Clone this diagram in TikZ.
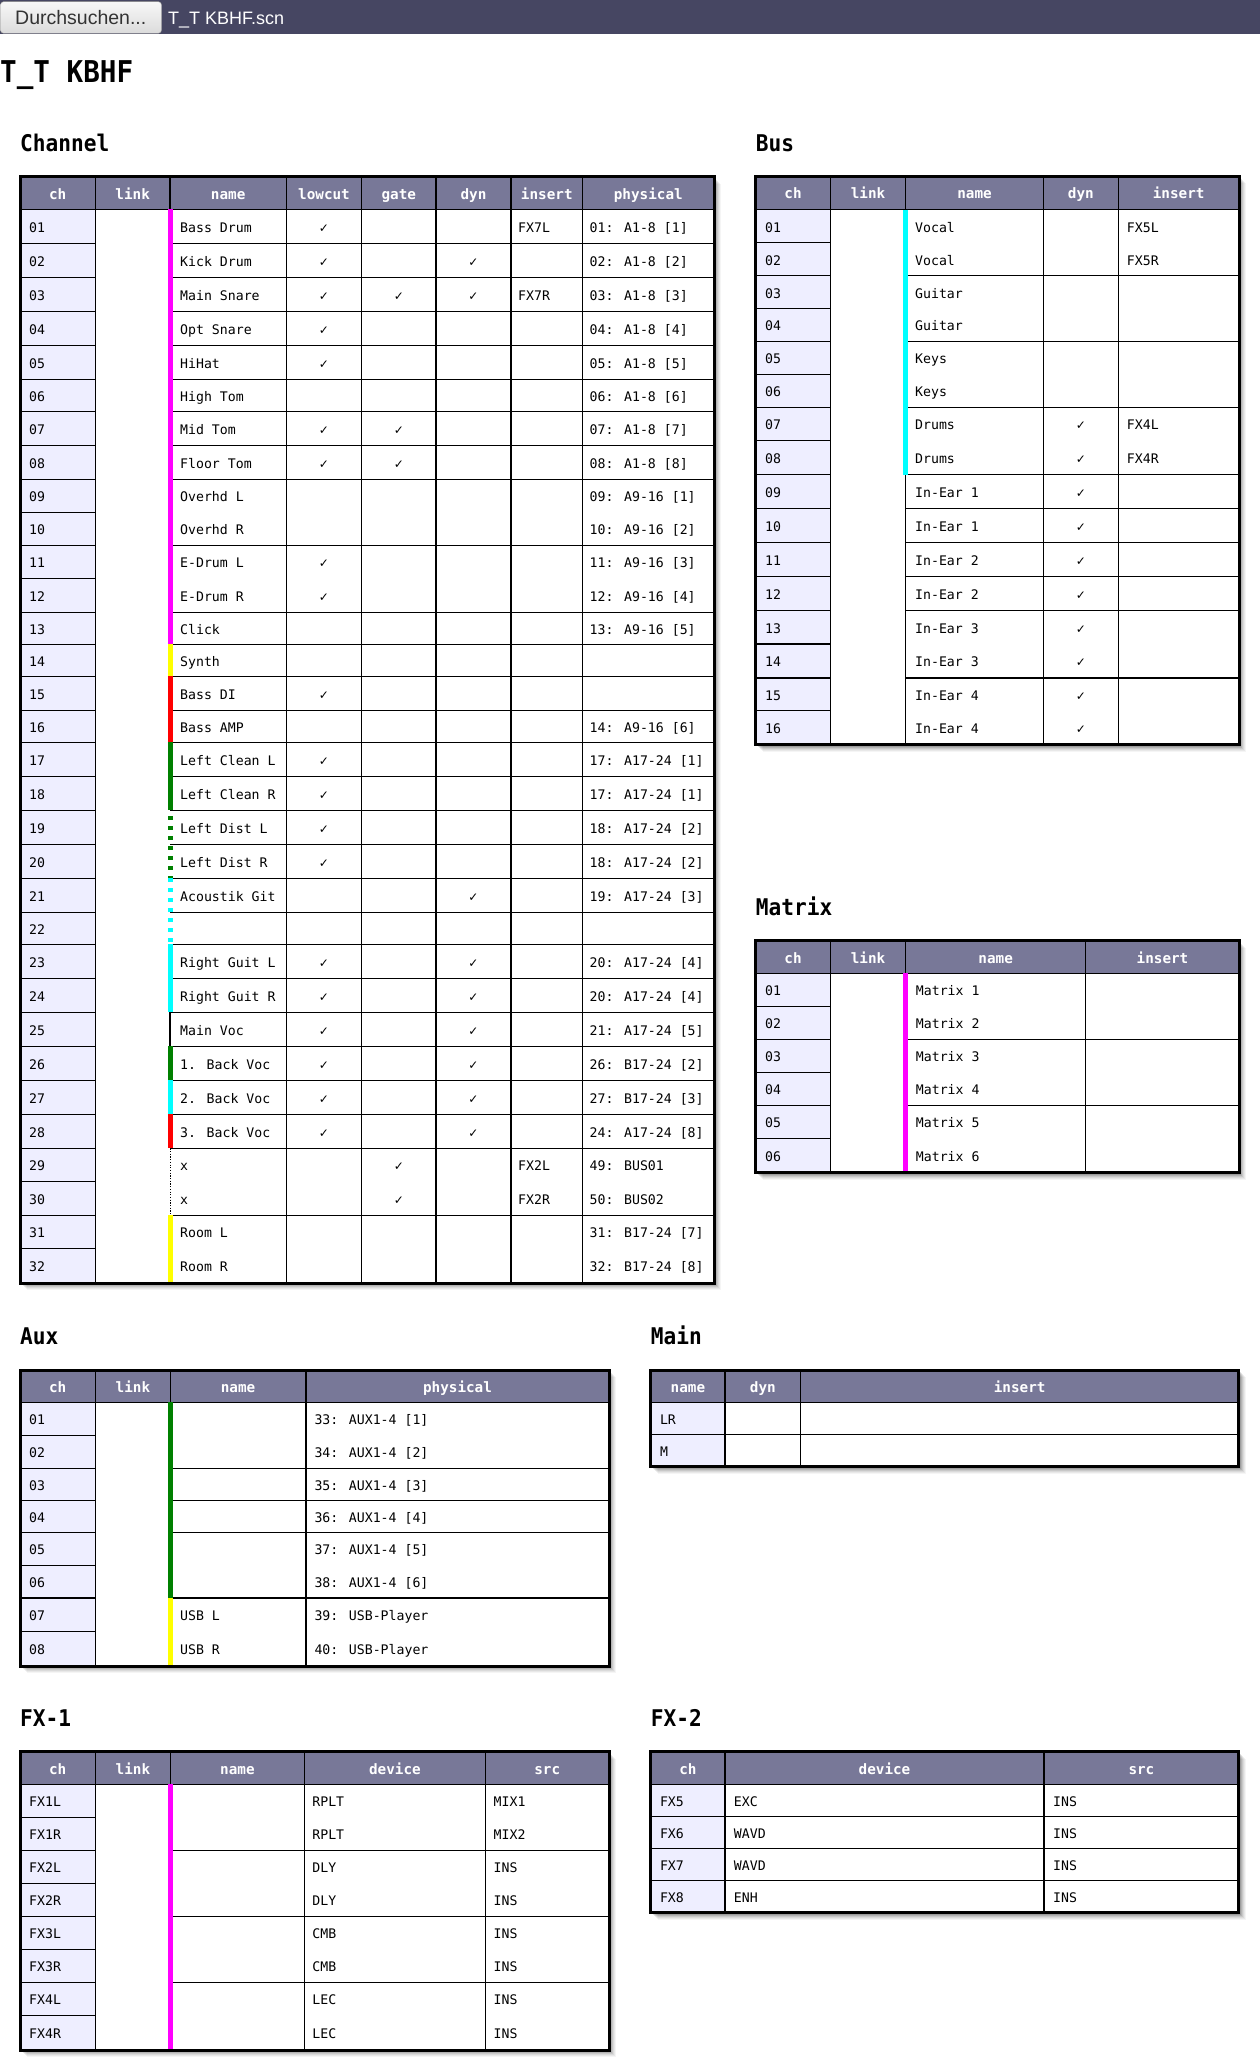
\documentclass[tikz,border=0pt]{standalone}
\usepackage{fontspec}
\newfontfamily\bodyf{DejaVu Sans Mono}
\newfontfamily\hfont[FakeStretch=0.92]{DejaVu Sans Mono}
\newfontfamily\symf{DejaVu Sans}
\newfontfamily\uif{Liberation Sans}
\definecolor{hdrbg}{RGB}{120,120,152}
\definecolor{chbg}{RGB}{238,238,255}
\definecolor{topbg}{RGB}{70,70,98}
\definecolor{lgreen}{RGB}{0,128,0}
\definecolor{lmag}{RGB}{255,0,255}
\definecolor{lcyan}{RGB}{0,255,255}
\definecolor{lyel}{RGB}{255,255,0}
\definecolor{lred}{RGB}{255,0,0}
\tikzset{
  txt/.style={inner sep=0pt,text=black,font=\bodyf\fontsize{13.2}{15}\selectfont},
  hdr/.style={inner sep=0pt,text=white,font=\bodyf\bfseries\fontsize{14.3}{16}\selectfont},
  heading/.style={inner sep=0pt,anchor=base west,font=\hfont\bfseries\fontsize{23}{26}\selectfont},
  grid/.style={line width=1.2pt,black},
  frame/.style={line width=3pt,black},
  bar/.style={line width=4.5pt},
}
\newcommand\ck{{\symf\fontsize{12}{13}\selectfont ✓}}
\newcommand\celll[5]{\if\relax\detokenize{#5}\relax\else\pgfmathsetmacro\tyc{(#3+#4)/2+5.8}\node[txt,anchor=base west] (#1) at (#2,\tyc) {#5};\fi}
\newcommand\cellc[5]{\if\relax\detokenize{#5}\relax\else\pgfmathsetmacro\tyc{(#3+#4)/2+5.8}\node[txt,anchor=base] (#1) at (#2,\tyc) {#5};\fi}
\newcommand\hcell[4]{\node[hdr,anchor=base] (#1) at (#2,#3) {#4};}
\newcommand\tshadow[4]{\foreach \o/\op in {7/0.04,6/0.05,5/0.06,4/0.08,3/0.1,2/0.12}{\fill[black,opacity=\op] (#1+\o,#2+\o) rectangle (#3+\o,#4+\o);}}
\newcommand\tbase[6]{\tshadow{#1}{#2}{#3}{#4}%
  \fill[white] (#1,#2) rectangle (#3,#4);
  \fill[hdrbg] (#1,#2) rectangle (#3,#5);
  \fill[chbg] (#1,#5) rectangle (#6,#4);
  \draw[grid] (#1,#5) -- (#3,#5);}
\newcommand\chrow[9]{%
  \celll{cc#3}{29}{#1}{#2}{#3}%
  \celll{cn#3}{180}{#1}{#2}{#4}%
  \cellc{cl#3}{324}{#1}{#2}{#5}%
  \cellc{cg#3}{399}{#1}{#2}{#6}%
  \cellc{cd#3}{473.5}{#1}{#2}{#7}%
  \celll{ci#3}{518}{#1}{#2}{#8}%
  \celll{cp#3}{589.5}{#1}{#2}{#9}}
\newcommand\busrow[6]{%
  \celll{bc#3}{765}{#1}{#2}{#3}%
  \celll{bn#3}{915}{#1}{#2}{#4}%
  \cellc{bd#3}{1080.8}{#1}{#2}{#5}%
  \celll{bi#3}{1126.7}{#1}{#2}{#6}}
\newcommand\mxrow[4]{%
  \celll{mc#3}{765}{#1}{#2}{#3}%
  \celll{mn#3}{915.7}{#1}{#2}{#4}}
\newcommand\auxrow[5]{%
  \celll{ac#3}{29}{#1}{#2}{#3}%
  \celll{an#3}{180}{#1}{#2}{#4}%
  \celll{ap#3}{314.3}{#1}{#2}{#5}}
\newcommand\fxarow[5]{%
  \celll{fac#3}{29}{#1}{#2}{#3}%
  \celll{fad#3}{312.2}{#1}{#2}{#4}%
  \celll{fas#3}{493.5}{#1}{#2}{#5}}
\newcommand\fxbrow[5]{%
  \celll{fbc#3}{659.8}{#1}{#2}{#3}%
  \celll{fbd#3}{733.7}{#1}{#2}{#4}%
  \celll{fbs#3}{1053}{#1}{#2}{#5}}
\begin{document}
\begin{tikzpicture}[x=1pt,y=-1pt]
\useasboundingbox (0,0) rectangle (1260,2071);
\fill[white] (0,0) rectangle (1260,2071);
% top bar
\fill[topbg] (0,0) rectangle (1260,34);
\shade[top color=black!3,bottom color=black!14,rounded corners=3pt] (0.5,1.7) rectangle (161.5,33.3);
\draw[black!45,rounded corners=3pt] (0.5,1.7) rectangle (161.5,33.3);
\node[inner sep=0pt,anchor=base west,font=\uif\fontsize{19.5}{21}\selectfont,text=black!80] (btn) at (15,25) {Durchsuchen...};
\node[inner sep=0pt,anchor=base west,font=\uif\fontsize{18}{20}\selectfont,text=white] (fname) at (168,25) {T\_T KBHF.scn};
% title and headings
\node[inner sep=0pt,anchor=base west,font=\hfont\bfseries\fontsize{30}{34}\selectfont] (title) at (0,83) {T\_T KBHF};
\node[heading] (hchan) at (20,152) {Channel};
\node[heading] (hbus) at (755.7,151.5) {Bus};
\node[heading] (hmat) at (755.7,915) {Matrix};
\node[heading] (haux) at (20,1344) {Aux};
\node[heading] (hmain) at (650.7,1344) {Main};
\node[heading] (hfxa) at (20,1726) {FX-1};
\node[heading] (hfxb) at (650.7,1726) {FX-2};

% ================= Channel
\tbase{20}{177}{714}{1283}{209.3}{95.4}
\foreach \y in {243.3,277.3,311.7,345.3,379.3,411.7,445.7,479.3,512.3,545.3,578.3,612.3,644.3,676.3,710.3,742.3,776.3,810.3,844.3,878.3,912.3,944.3,978.3,1012.3,1046.3,1080.3,1114.3,1148.3,1181.3,1215.3,1248.3}
  \draw[grid] (20,\y) -- (95.4,\y);
\foreach \y in {243.3,277.3,311.7,345.3,379.3,411.7,445.7,479.3,545.3,612.3,644.3,676.3,710.3,742.3,776.3,810.3,844.3,878.3,912.3,944.3,978.3,1012.3,1046.3,1080.3,1114.3,1148.3,1215.3}
  \draw[grid] (170,\y) -- (714,\y);
\foreach \x in {95.4,286.5,361.5,436,511,582.5}
  \draw[grid] (\x,177) -- (\x,1283);
\draw[grid] (170,177) -- (170,209.3);
\draw[bar,lmag] (170.4,209.3) -- (170.4,644.3);
\draw[bar,lyel] (170.4,644.3) -- (170.4,676.3);
\draw[bar,lred] (170.4,676.3) -- (170.4,742.3);
\draw[bar,lgreen] (170.4,742.3) -- (170.4,810.3);
\draw[bar,lgreen,dash pattern=on 4pt off 6pt,dash phase=-6pt] (170.4,810.3) -- (170.4,878.3);
\draw[bar,lcyan,dash pattern=on 4pt off 6pt] (170.4,878.3) -- (170.4,944.3);
\draw[bar,lcyan] (170.4,944.3) -- (170.4,1012.3);
\draw[line width=1.2pt,black] (170,1012.3) -- (170,1046.3);
\draw[bar,lgreen] (170.4,1046.3) -- (170.4,1080.3);
\draw[bar,lcyan] (170.4,1080.3) -- (170.4,1114.3);
\draw[bar,lred] (170.4,1114.3) -- (170.4,1148.3);
\draw[line width=1.2pt,black,dash pattern=on 1.2pt off 1.5pt] (170.4,1148.3) -- (170.4,1215.3);
\draw[bar,lyel] (170.4,1215.3) -- (170.4,1283);
\draw[frame] (20,177) rectangle (714,1283);
\hcell{chA}{57.7}{199.2}{ch}
\hcell{chB}{132.7}{199.2}{link}
\hcell{chC}{228.2}{199.2}{name}
\hcell{chD}{324}{199.2}{lowcut}
\hcell{chE}{398.8}{199.2}{gate}
\hcell{chF}{473.5}{199.2}{dyn}
\hcell{chG}{546.8}{199.2}{insert}
\hcell{chH}{648.3}{199.2}{physical}
\chrow{209.3}{243.3}{01}{Bass Drum}{\ck}{}{}{FX7L}{01: A1-8 [1]}
\chrow{243.3}{277.3}{02}{Kick Drum}{\ck}{}{\ck}{}{02: A1-8 [2]}
\chrow{277.3}{311.7}{03}{Main Snare}{\ck}{\ck}{\ck}{FX7R}{03: A1-8 [3]}
\chrow{311.7}{345.3}{04}{Opt Snare}{\ck}{}{}{}{04: A1-8 [4]}
\chrow{345.3}{379.3}{05}{HiHat}{\ck}{}{}{}{05: A1-8 [5]}
\chrow{379.3}{411.7}{06}{High Tom}{}{}{}{}{06: A1-8 [6]}
\chrow{411.7}{445.7}{07}{Mid Tom}{\ck}{\ck}{}{}{07: A1-8 [7]}
\chrow{445.7}{479.3}{08}{Floor Tom}{\ck}{\ck}{}{}{08: A1-8 [8]}
\chrow{479.3}{512.3}{09}{Overhd L}{}{}{}{}{09: A9-16 [1]}
\chrow{512.3}{545.3}{10}{Overhd R}{}{}{}{}{10: A9-16 [2]}
\chrow{545.3}{578.3}{11}{E-Drum L}{\ck}{}{}{}{11: A9-16 [3]}
\chrow{578.3}{612.3}{12}{E-Drum R}{\ck}{}{}{}{12: A9-16 [4]}
\chrow{612.3}{644.3}{13}{Click}{}{}{}{}{13: A9-16 [5]}
\chrow{644.3}{676.3}{14}{Synth}{}{}{}{}{}
\chrow{676.3}{710.3}{15}{Bass DI}{\ck}{}{}{}{}
\chrow{710.3}{742.3}{16}{Bass AMP}{}{}{}{}{14: A9-16 [6]}
\chrow{742.3}{776.3}{17}{Left Clean L}{\ck}{}{}{}{17: A17-24 [1]}
\chrow{776.3}{810.3}{18}{Left Clean R}{\ck}{}{}{}{17: A17-24 [1]}
\chrow{810.3}{844.3}{19}{Left Dist L}{\ck}{}{}{}{18: A17-24 [2]}
\chrow{844.3}{878.3}{20}{Left Dist R}{\ck}{}{}{}{18: A17-24 [2]}
\chrow{878.3}{912.3}{21}{Acoustik Git}{}{}{\ck}{}{19: A17-24 [3]}
\chrow{912.3}{944.3}{22}{}{}{}{}{}{}
\chrow{944.3}{978.3}{23}{Right Guit L}{\ck}{}{\ck}{}{20: A17-24 [4]}
\chrow{978.3}{1012.3}{24}{Right Guit R}{\ck}{}{\ck}{}{20: A17-24 [4]}
\chrow{1012.3}{1046.3}{25}{Main Voc}{\ck}{}{\ck}{}{21: A17-24 [5]}
\chrow{1046.3}{1080.3}{26}{1. Back Voc}{\ck}{}{\ck}{}{26: B17-24 [2]}
\chrow{1080.3}{1114.3}{27}{2. Back Voc}{\ck}{}{\ck}{}{27: B17-24 [3]}
\chrow{1114.3}{1148.3}{28}{3. Back Voc}{\ck}{}{\ck}{}{24: A17-24 [8]}
\chrow{1148.3}{1181.3}{29}{x}{}{\ck}{}{FX2L}{49: BUS01}
\chrow{1181.3}{1215.3}{30}{x}{}{\ck}{}{FX2R}{50: BUS02}
\chrow{1215.3}{1248.3}{31}{Room L}{}{}{}{}{31: B17-24 [7]}
\chrow{1248.3}{1283}{32}{Room R}{}{}{}{}{32: B17-24 [8]}

% ================= Bus
\tbase{755.7}{176.5}{1239}{744.8}{209.6}{830.3}
\foreach \y in {242.8,275.6,308.8,341.5,374.7,407.5,440.7,474.7,508.8,542.8,576.8,610.8,644,678,710.8}
  \draw[grid] (755.7,\y) -- (830.3,\y);
\foreach \y in {275.6,341.5,407.5,474.7,508.8,542.8,576.8,610.8,678}
  \draw[grid] (905.7,\y) -- (1239,\y);
\foreach \x in {830.3,1043.3,1118.3}
  \draw[grid] (\x,176.5) -- (\x,744.8);
\draw[grid] (905.7,176.5) -- (905.7,209.6);
\draw[grid] (905.7,474.7) -- (905.7,744.8);
\draw[bar,lcyan] (905.5,209.6) -- (905.5,474.7);
\draw[frame] (755.7,176.5) rectangle (1239,744.8);
\hcell{buA}{793}{199}{ch}
\hcell{buB}{868}{199}{link}
\hcell{buC}{974.5}{199}{name}
\hcell{buD}{1080.8}{199}{dyn}
\hcell{buE}{1178.7}{199}{insert}
\busrow{209.6}{242.8}{01}{Vocal}{}{FX5L}
\busrow{242.8}{275.6}{02}{Vocal}{}{FX5R}
\busrow{275.6}{308.8}{03}{Guitar}{}{}
\busrow{308.8}{341.5}{04}{Guitar}{}{}
\busrow{341.5}{374.7}{05}{Keys}{}{}
\busrow{374.7}{407.5}{06}{Keys}{}{}
\busrow{407.5}{440.7}{07}{Drums}{\ck}{FX4L}
\busrow{440.7}{474.7}{08}{Drums}{\ck}{FX4R}
\busrow{474.7}{508.8}{09}{In-Ear 1}{\ck}{}
\busrow{508.8}{542.8}{10}{In-Ear 1}{\ck}{}
\busrow{542.8}{576.8}{11}{In-Ear 2}{\ck}{}
\busrow{576.8}{610.8}{12}{In-Ear 2}{\ck}{}
\busrow{610.8}{644}{13}{In-Ear 3}{\ck}{}
\busrow{644}{678}{14}{In-Ear 3}{\ck}{}
\busrow{678}{710.8}{15}{In-Ear 4}{\ck}{}
\busrow{710.8}{744.8}{16}{In-Ear 4}{\ck}{}

% ================= Matrix
\tbase{755.7}{940.7}{1239}{1172.7}{973.3}{830.3}
\foreach \y in {1006.3,1039.3,1072.3,1105.3,1138.3}
  \draw[grid] (755.7,\y) -- (830.3,\y);
\foreach \y in {1039.3,1105.3}
  \draw[grid] (905.7,\y) -- (1239,\y);
\foreach \x in {830.3,1085.7}
  \draw[grid] (\x,940.7) -- (\x,1172.7);
\draw[grid] (905.7,940.7) -- (905.7,973.3);
\draw[bar,lmag] (905.5,973.3) -- (905.5,1172.7);
\draw[frame] (755.7,940.7) rectangle (1239,1172.7);
\hcell{maA}{793}{963}{ch}
\hcell{maB}{868}{963}{link}
\hcell{maC}{995.7}{963}{name}
\hcell{maD}{1162.5}{963}{insert}
\mxrow{973.3}{1006.3}{01}{Matrix 1}
\mxrow{1006.3}{1039.3}{02}{Matrix 2}
\mxrow{1039.3}{1072.3}{03}{Matrix 3}
\mxrow{1072.3}{1105.3}{04}{Matrix 4}
\mxrow{1105.3}{1138.3}{05}{Matrix 5}
\mxrow{1138.3}{1172.7}{06}{Matrix 6}

% ================= Aux
\tbase{20}{1370}{609}{1666}{1402.3}{95.5}
\foreach \y in {1435.3,1468.3,1500.3,1532.3,1565.3,1598,1631.3}
  \draw[grid] (20,\y) -- (95.5,\y);
\foreach \y in {1468.3,1500.3,1532.3,1598}
  \draw[grid] (170.2,\y) -- (609,\y);
\foreach \x in {95.5,306}
  \draw[grid] (\x,1370) -- (\x,1666);
\draw[grid] (170.2,1370) -- (170.2,1402.3);
\draw[bar,lgreen] (170.4,1402.3) -- (170.4,1598);
\draw[bar,lyel] (170.4,1598) -- (170.4,1666);
\draw[frame] (20,1370) rectangle (609,1666);
\hcell{axA}{57.7}{1392.2}{ch}
\hcell{axB}{132.9}{1392.2}{link}
\hcell{axC}{238.1}{1392.2}{name}
\hcell{axD}{457.5}{1392.2}{physical}
\auxrow{1402.3}{1435.3}{01}{}{33: AUX1-4 [1]}
\auxrow{1435.3}{1468.3}{02}{}{34: AUX1-4 [2]}
\auxrow{1468.3}{1500.3}{03}{}{35: AUX1-4 [3]}
\auxrow{1500.3}{1532.3}{04}{}{36: AUX1-4 [4]}
\auxrow{1532.3}{1565.3}{05}{}{37: AUX1-4 [5]}
\auxrow{1565.3}{1598}{06}{}{38: AUX1-4 [6]}
\auxrow{1598}{1631.3}{07}{USB L}{39: USB-Player}
\auxrow{1631.3}{1666}{08}{USB R}{40: USB-Player}

% ================= Main
\tbase{650.7}{1370}{1238.8}{1466.7}{1402.3}{725}
\draw[grid] (650.7,1434.3) -- (1238.8,1434.3);
\foreach \x in {725,800.5}
  \draw[grid] (\x,1370) -- (\x,1466.7);
\draw[frame] (650.7,1370) rectangle (1238.8,1466.7);
\hcell{mnA}{687.9}{1392.2}{name}
\hcell{mnB}{762.8}{1392.2}{dyn}
\hcell{mnC}{1019.7}{1392.2}{insert}
\celll{mnLR}{659.8}{1402.3}{1434.3}{LR}
\celll{mnM}{659.8}{1434.3}{1466.7}{M}

% ================= FX-1
\tbase{20}{1751.7}{609}{2050}{1784.3}{95.5}
\foreach \y in {1817.3,1850.3,1883.3,1916.3,1949.3,1982.3,2015.7}
  \draw[grid] (20,\y) -- (95.5,\y);
\foreach \y in {1850.3,1916.3,1982.3}
  \draw[grid] (170.2,\y) -- (609,\y);
\foreach \x in {95.5,304.5,485.3}
  \draw[grid] (\x,1751.7) -- (\x,2050);
\draw[grid] (170.2,1751.7) -- (170.2,1784.3);
\draw[bar,lmag] (170.4,1784.3) -- (170.4,2050);
\draw[frame] (20,1751.7) rectangle (609,2050);
\hcell{faA}{57.7}{1774}{ch}
\hcell{faB}{132.9}{1774}{link}
\hcell{faC}{237.4}{1774}{name}
\hcell{faD}{394.9}{1774}{device}
\hcell{faE}{547.2}{1774}{src}
\fxarow{1784.3}{1817.3}{FX1L}{RPLT}{MIX1}
\fxarow{1817.3}{1850.3}{FX1R}{RPLT}{MIX2}
\fxarow{1850.3}{1883.3}{FX2L}{DLY}{INS}
\fxarow{1883.3}{1916.3}{FX2R}{DLY}{INS}
\fxarow{1916.3}{1949.3}{FX3L}{CMB}{INS}
\fxarow{1949.3}{1982.3}{FX3R}{CMB}{INS}
\fxarow{1982.3}{2015.7}{FX4L}{LEC}{INS}
\fxarow{2015.7}{2050}{FX4R}{LEC}{INS}

% ================= FX-2
\tbase{650.7}{1751.7}{1238.8}{1912.7}{1784.3}{725}
\foreach \y in {1816.7,1848.7,1880.7}
  \draw[grid] (650.7,\y) -- (1238.8,\y);
\foreach \x in {725,1044}
  \draw[grid] (\x,1751.7) -- (\x,1912.7);
\draw[frame] (650.7,1751.7) rectangle (1238.8,1912.7);
\hcell{fbA}{687.9}{1774}{ch}
\hcell{fbB}{884.5}{1774}{device}
\hcell{fbC}{1141.4}{1774}{src}
\fxbrow{1784.3}{1816.7}{FX5}{EXC}{INS}
\fxbrow{1816.7}{1848.7}{FX6}{WAVD}{INS}
\fxbrow{1848.7}{1880.7}{FX7}{WAVD}{INS}
\fxbrow{1880.7}{1912.7}{FX8}{ENH}{INS}
\end{tikzpicture}
\end{document}
